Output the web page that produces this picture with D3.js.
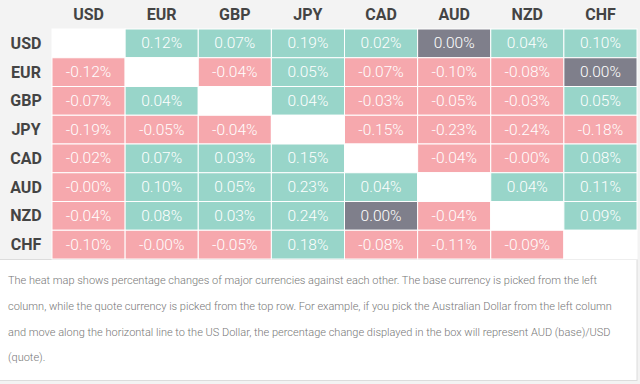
<!DOCTYPE html>
<html>
<head>
<meta charset="utf-8">
<script src="https://cdn.jsdelivr.net/npm/d3@7"></script>
<style>
html,body{margin:0;padding:0;background:#f3f3f3;}
svg{display:block;}
</style>
</head>
<body>
<svg id="chart" width="640" height="384"></svg>
<script>
const currencies = ["USD","EUR","GBP","JPY","CAD","AUD","NZD","CHF"];
// Labels as shown (row = base, column = quote); "" on the diagonal
const rowUSD = ["", "0.12%", "0.07%", "0.19%", "0.02%", "0.00%", "0.04%", "0.10%"];
const rowEUR = ["-0.12%", "", "-0.04%", "0.05%", "-0.07%", "-0.10%", "-0.08%", "0.00%"];
const rowGBP = ["-0.07%", "0.04%", "", "0.04%", "-0.03%", "-0.05%", "-0.03%", "0.05%"];
const rowJPY = ["-0.19%", "-0.05%", "-0.04%", "", "-0.15%", "-0.23%", "-0.24%", "-0.18%"];
const rowCAD = ["-0.02%", "0.07%", "0.03%", "0.15%", "", "-0.04%", "-0.00%", "0.08%"];
const rowAUD = ["-0.00%", "0.10%", "0.05%", "0.23%", "0.04%", "", "0.04%", "0.11%"];
const rowNZD = ["-0.04%", "0.08%", "0.03%", "0.24%", "0.00%", "-0.04%", "", "0.09%"];
const rowCHF = ["-0.10%", "-0.00%", "-0.05%", "0.18%", "-0.08%", "-0.11%", "-0.09%", ""];
const rows = [rowUSD,rowEUR,rowGBP,rowJPY,rowCAD,rowAUD,rowNZD,rowCHF];
const noteLines = [
  "The heat map shows percentage changes of major currencies against each other. The base currency is picked from the left",
  "column, while the quote currency is picked from the top row. For example, if you pick the Australian Dollar from the left column",
  "and move along the horizontal line to the US Dollar, the percentage change displayed in the box will represent AUD (base)/USD",
  "(quote)."
];

const cells = [];
rows.forEach((r,i)=>r.forEach((lab,j)=>cells.push({base:currencies[i],quote:currencies[j],label:lab})));
function kind(lab){
  if(lab==="") return "none";
  if(lab.startsWith("-")) return "neg";
  if(parseFloat(lab)===0) return "zero";
  return "pos";
}
const color = d3.scaleOrdinal().domain(["none","neg","zero","pos"])
  .range(["#ffffff","#f6a8ad","#7f7f8b","#98d5c9"]);

const svg = d3.select("#chart");
const x = d3.scaleBand().domain(currencies).range([52,637]);
const y = d3.scaleBand().domain(currencies).range([29,259]);

// note box
svg.append("rect").attr("x",-1).attr("y",259.5).attr("width",638).attr("height",121)
  .attr("fill","#fff").attr("stroke","#dcdcdc");

svg.append("g").selectAll("rect").data(cells).join("rect")
  .attr("x",d=>x(d.quote)).attr("y",d=>y(d.base))
  .attr("width",x.bandwidth()).attr("height",y.bandwidth())
  .attr("fill",d=>color(kind(d.label)))
  .attr("stroke","#ffffff").attr("stroke-width",1);

svg.append("g").selectAll("text").data(cells.filter(d=>d.label!=="")).join("text")
  .attr("x",d=>x(d.quote)+x.bandwidth()/2).attr("y",d=>y(d.base)+y.bandwidth()/2)
  .attr("text-anchor","middle").attr("dominant-baseline","central")
  .attr("font-family","Roboto").attr("font-weight",300).attr("font-size",15.5)
  .attr("fill","#ffffff").text(d=>d.label);

// column headers
svg.append("g").selectAll("text").data(currencies).join("text")
  .attr("x",d=>x(d)+x.bandwidth()/2).attr("y",14)
  .attr("text-anchor","middle").attr("dominant-baseline","central")
  .attr("font-family","Roboto").attr("font-weight",700).attr("font-size",16)
  .attr("fill","#444").text(d=>d);
// row headers
svg.append("g").selectAll("text").data(currencies).join("text")
  .attr("x",26).attr("y",d=>y(d)+y.bandwidth()/2)
  .attr("text-anchor","middle").attr("dominant-baseline","central")
  .attr("font-family","Roboto").attr("font-weight",700).attr("font-size",16)
  .attr("fill","#444").text(d=>d);

svg.append("g").selectAll("text").data(noteLines).join("text")
  .attr("x",8).attr("y",(d,i)=>284+i*25.8)
  .attr("font-family","Roboto").attr("font-weight",300).attr("font-size",11)
  .attr("fill","#777").text(d=>d);
</script>
</body>
</html>
